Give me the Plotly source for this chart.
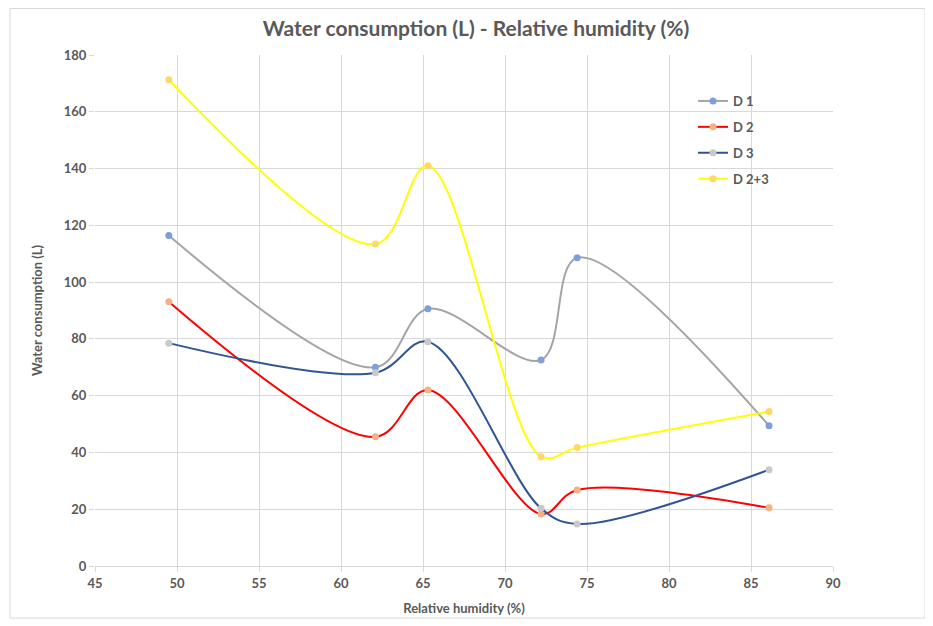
import plotly.graph_objects as go

humidity = [49.5, 62.1, 65.3, 72.2, 74.4, 86.1]
d1 = [116.4, 70.0, 90.6, 72.6, 108.6, 49.4]
d2 = [93.1, 45.5, 62.0, 18.3, 26.8, 20.5]
d3 = [78.5, 68.1, 79.0, 20.3, 14.8, 33.9]
d23 = [171.3, 113.4, 141.0, 38.5, 41.7, 54.4]

series_names = ["D 1", "D 2", "D 3", "D 2+3"]
series_values = [d1, d2, d3, d23]
line_colors = ["#a5a5a5", "#ff0000", "#2f5597", "#ffff00"]
marker_colors = ["#7f9fd8", "#f4b183", "#c9c9c9", "#ffd966"]

FONT = "Lato, Open Sans, sans-serif"
TXT = "#595959"

# figure-space geometry (page has ~8px body margin)
L, T = 87, 47
PW, PH = 738, 511
R = 933 - L - PW
B = 626 - T - PH

fig = go.Figure()
for i, (name, vals) in enumerate(zip(series_names, series_values)):
    fig.add_trace(go.Scatter(
        x=humidity, y=vals, name=name, mode="lines+markers",
        line=dict(color=line_colors[i], width=2, shape="spline", smoothing=1.0),
        marker=dict(color=marker_colors[i], size=7),
        legendgroup=f"g{i}",
    ))

bold = dict(family=FONT, color=TXT, size=13, weight="bold")

fig.update_layout(
    width=933, height=626,
    paper_bgcolor="white", plot_bgcolor="white",
    margin=dict(l=L, r=R, t=T, b=B),
    font=dict(family=FONT, color=TXT, size=13),
    title=dict(text="<b>Water consumption (L) - Relative humidity (%)</b>",
               x=468 / 933, xanchor="center", y=1 - 21 / 626, yanchor="middle",
               font=dict(size=21, color=TXT, family=FONT)),
    showlegend=True,
    legend=dict(x=(685 - L) / PW, y=(T + PH - 78) / PH, xanchor="left", yanchor="top",
                bgcolor="rgba(0,0,0,0)", font=bold,
                tracegroupgap=6, itemwidth=30),
    xaxis=dict(range=[45, 90], dtick=5, tick0=45,
               showgrid=True, gridcolor="#d9d9d9", gridwidth=1,
               showline=True, linecolor="#d9d9d9", ticks="outside", ticklen=5,
               tickcolor="#d9d9d9", zeroline=False,
               tickfont=bold,
               title=dict(text="<b>Relative humidity (%)</b>", standoff=14,
                          font=dict(size=13, color=TXT, family=FONT))),
    yaxis=dict(range=[0, 180], dtick=20, tick0=0,
               showgrid=True, gridcolor="#d9d9d9", gridwidth=1,
               showline=False, ticks="outside", ticklen=5, tickcolor="#d9d9d9",
               zeroline=False,
               tickfont=bold,
               title=dict(text="<b>Water consumption (L)</b>", standoff=18,
                          font=dict(size=13, color=TXT, family=FONT))),
)

fig.add_shape(type="rect", xref="paper", yref="paper",
              x0=(2 - L) / PW, x1=(917 - L) / PW,
              y0=(T + PH - 610) / PH, y1=(T + PH - 0.5) / PH,
              line=dict(color="#d9d9d9", width=1), layer="below")

fig.write_html("out.html")
